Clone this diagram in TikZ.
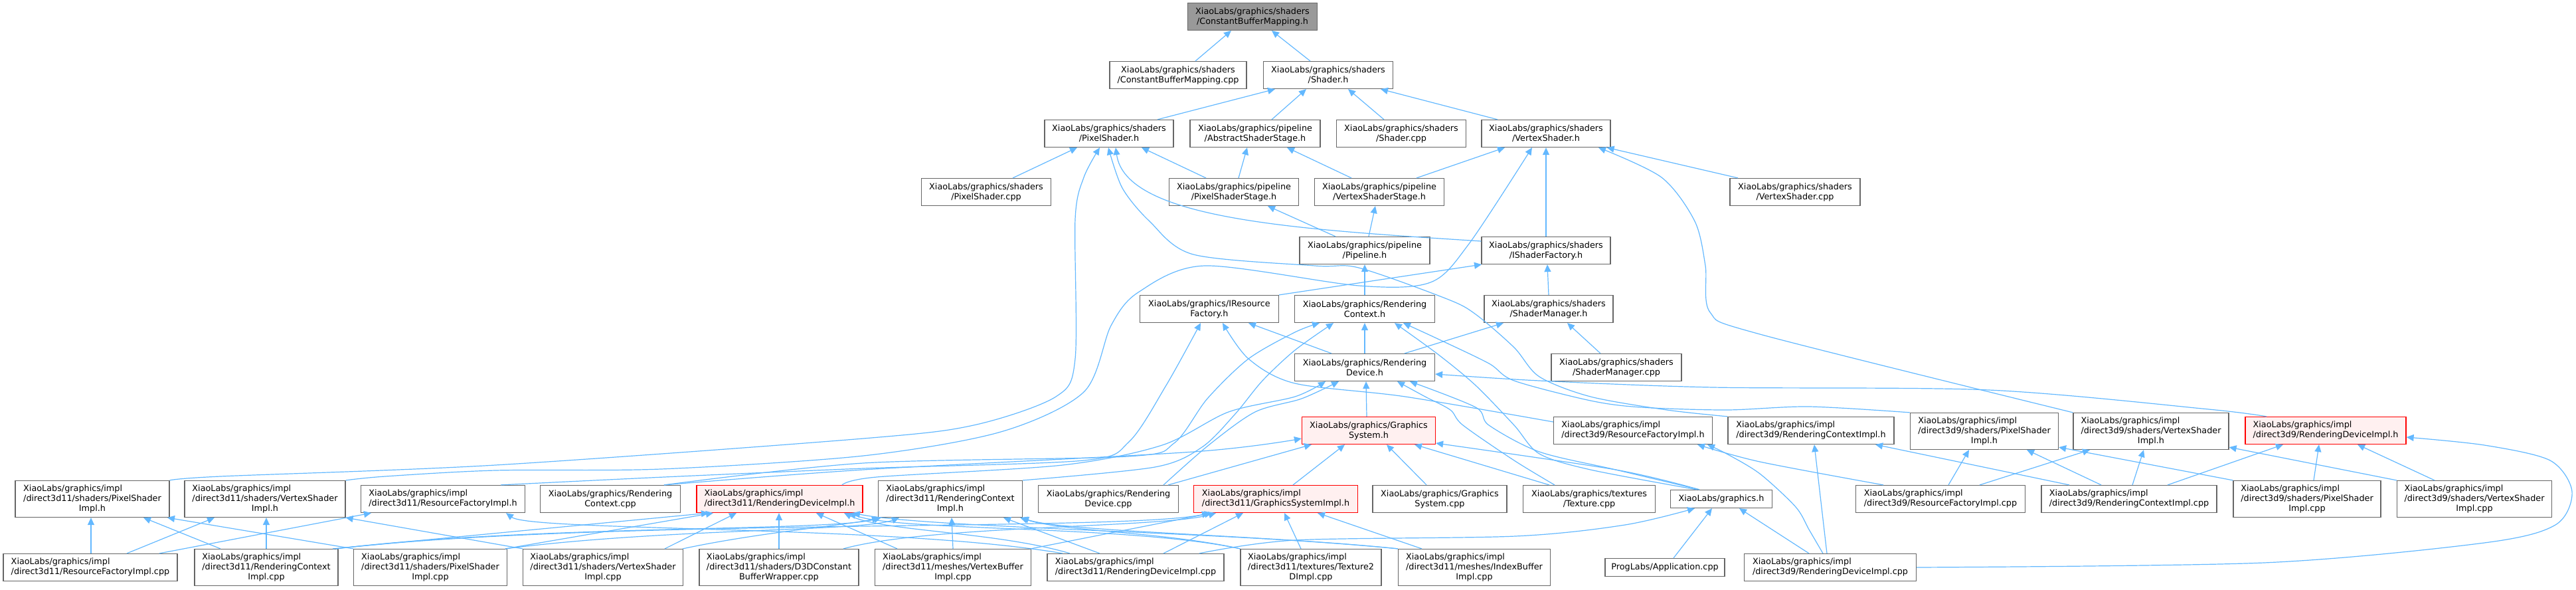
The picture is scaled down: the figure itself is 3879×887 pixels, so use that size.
\documentclass[tikz,border=0pt]{standalone}
\usepackage{fontspec}
\setmainfont{DejaVu Sans}
\usetikzlibrary{arrows.meta}
\definecolor{edgec}{HTML}{63B8FF}
\definecolor{boxc}{HTML}{666666}
\definecolor{redfill}{HTML}{FFF0F0}
\definecolor{topfill}{HTML}{999999}
\newcommand{\nodefont}{\fontsize{12.8pt}{15pt}\selectfont}
\newcommand{\Ltwo}[2]{\begin{tabular}{@{}l@{}}#1\\#2\end{tabular}}
\newcommand{\Lthree}[3]{\begin{tabular}{@{}l@{}}#1\\#2\\\multicolumn{1}{@{}c@{}}{#3}\end{tabular}}
\begin{document}
\begin{tikzpicture}[x=1pt, y=-1pt,
  box/.style={draw=boxc, fill=white, line width=1.2pt, font=\nodefont, inner sep=0pt, minimum height=41pt, align=center},
  hthree/.style={minimum height=55pt},
  hone/.style={minimum height=27pt},
  redbox/.style={draw=red, fill=redfill},
  topbox/.style={fill=topfill},
  edge/.style={draw=edgec, line width=1.2pt, -{Triangle[length=11pt,width=10pt]}},
  sm/.style={smooth, tension=0.5}]
\useasboundingbox (0,0) rectangle (3879,887);

% ---------- nodes ----------
\node[box, topbox, minimum width=195pt] (cbmh) at (1886,25) {XiaoLabs/graphics/shaders\\/ConstantBufferMapping.h};
\node[box, minimum width=206pt] (cbmcpp) at (1774,113) {XiaoLabs/graphics/shaders\\/ConstantBufferMapping.cpp};
\node[box, minimum width=195pt] (shaderh) at (2000,113) {XiaoLabs/graphics/shaders\\/Shader.h};
\node[box, minimum width=194pt] (psh) at (1670,201) {XiaoLabs/graphics/shaders\\/PixelShader.h};
\node[box, minimum width=196pt] (assh) at (1890,201) {XiaoLabs/graphics/pipeline\\/AbstractShaderStage.h};
\node[box, minimum width=195pt] (shadercpp) at (2110,201) {XiaoLabs/graphics/shaders\\/Shader.cpp};
\node[box, minimum width=194pt] (vsh) at (2328,201) {XiaoLabs/graphics/shaders\\/VertexShader.h};
\node[box, minimum width=195pt] (pscpp) at (1485,289) {XiaoLabs/graphics/shaders\\/PixelShader.cpp};
\node[box, minimum width=195pt] (pssh) at (1858,289) {XiaoLabs/graphics/pipeline\\/PixelShaderStage.h};
\node[box, minimum width=195pt] (vssh) at (2077,289) {XiaoLabs/graphics/pipeline\\/VertexShaderStage.h};
\node[box, minimum width=196pt] (vscpp) at (2703,289) {XiaoLabs/graphics/shaders\\/VertexShader.cpp};
\node[box, minimum width=196pt] (pipeh) at (2055,377) {XiaoLabs/graphics/pipeline\\/Pipeline.h};
\node[box, minimum width=194pt] (isfh) at (2328,377) {XiaoLabs/graphics/shaders\\/IShaderFactory.h};
\node[box, minimum width=209pt] (irfh) at (1821,465) {XiaoLabs/graphics/IResource\\Factory.h};
\node[box, minimum width=211pt] (rch) at (2055,465) {XiaoLabs/graphics/Rendering\\Context.h};
\node[box, minimum width=194pt] (smh) at (2332,465) {XiaoLabs/graphics/shaders\\/ShaderManager.h};
\node[box, minimum width=211pt] (rdh) at (2055,553) {XiaoLabs/graphics/Rendering\\Device.h};
\node[box, minimum width=196pt] (smcpp) at (2434,553) {XiaoLabs/graphics/shaders\\/ShaderManager.cpp};
\node[box, redbox, minimum width=201pt] (gsh) at (2061,648) {XiaoLabs/graphics/Graphics\\System.h};
\node[box, minimum width=239pt] (d9rfh) at (2459,648) {\Ltwo{XiaoLabs/graphics/impl}{/direct3d9/ResourceFactoryImpl.h}};
\node[box, minimum width=250pt] (d9rch) at (2727,648) {\Ltwo{XiaoLabs/graphics/impl}{/direct3d9/RenderingContextImpl.h}};
\node[box, hthree, minimum width=223pt] (d9psh) at (2988,649) {\Lthree{XiaoLabs/graphics/impl}{/direct3d9/shaders/PixelShader}{Impl.h}};
\node[box, hthree, minimum width=234pt] (d9vsh) at (3239,649) {\Lthree{XiaoLabs/graphics/impl}{/direct3d9/shaders/VertexShader}{Impl.h}};
\node[box, redbox, minimum width=242pt] (d9rdh) at (3502,648) {\Ltwo{XiaoLabs/graphics/impl}{/direct3d9/RenderingDeviceImpl.h}};

\node[box, hthree, minimum width=232pt] (d11psh) at (139,751) {\Lthree{XiaoLabs/graphics/impl}{/direct3d11/shaders/PixelShader}{Impl.h}};
\node[box, hthree, minimum width=242pt] (d11vsh) at (399,751) {\Lthree{XiaoLabs/graphics/impl}{/direct3d11/shaders/VertexShader}{Impl.h}};
\node[box, minimum width=247pt] (d11rfh) at (667,751) {\Ltwo{XiaoLabs/graphics/impl}{/direct3d11/ResourceFactoryImpl.h}};
\node[box, minimum width=211pt] (rccpp) at (919,751) {XiaoLabs/graphics/Rendering\\Context.cpp};
\node[box, redbox, minimum width=250pt] (d11rdh) at (1174,751) {\Ltwo{XiaoLabs/graphics/impl}{/direct3d11/RenderingDeviceImpl.h}};
\node[box, hthree, minimum width=217pt] (d11rch) at (1431,751) {\Lthree{XiaoLabs/graphics/impl}{/direct3d11/RenderingContext}{Impl.h}};
\node[box, minimum width=211pt] (rdcpp) at (1669,751) {XiaoLabs/graphics/Rendering\\Device.cpp};
\node[box, redbox, minimum width=247pt] (d11gsh) at (1921,751) {\Ltwo{XiaoLabs/graphics/impl}{/direct3d11/GraphicsSystemImpl.h}};
\node[box, minimum width=202pt] (gscpp) at (2168,751) {XiaoLabs/graphics/Graphics\\System.cpp};
\node[box, minimum width=199pt] (texcpp) at (2393,751) {XiaoLabs/graphics/textures\\/Texture.cpp};
\node[box, hone, minimum width=153pt] (graphicsh) at (2592,751) {XiaoLabs/graphics.h};
\node[box, minimum width=255pt] (d9rfcpp) at (2922,751) {\Ltwo{XiaoLabs/graphics/impl}{/direct3d9/ResourceFactoryImpl.cpp}};
\node[box, minimum width=264pt] (d9rccpp) at (3206,751) {\Ltwo{XiaoLabs/graphics/impl}{/direct3d9/RenderingContextImpl.cpp}};
\node[box, hthree, minimum width=222pt] (d9pscpp) at (3474,751) {\Lthree{XiaoLabs/graphics/impl}{/direct3d9/shaders/PixelShader}{Impl.cpp}};
\node[box, hthree, minimum width=233pt] (d9vscpp) at (3726,751) {\Lthree{XiaoLabs/graphics/impl}{/direct3d9/shaders/VertexShader}{Impl.cpp}};

\node[box, minimum width=262pt] (d11rfcpp) at (136,854) {\Ltwo{XiaoLabs/graphics/impl}{/direct3d11/ResourceFactoryImpl.cpp}};
\node[box, hthree, minimum width=216pt] (d11rccpp) at (401,854) {\Lthree{XiaoLabs/graphics/impl}{/direct3d11/RenderingContext}{Impl.cpp}};
\node[box, hthree, minimum width=231pt] (d11pscpp) at (648,854) {\Lthree{XiaoLabs/graphics/impl}{/direct3d11/shaders/PixelShader}{Impl.cpp}};
\node[box, hthree, minimum width=241pt] (d11vscpp) at (908,854) {\Lthree{XiaoLabs/graphics/impl}{/direct3d11/shaders/VertexShader}{Impl.cpp}};
\node[box, hthree, minimum width=240pt] (d3dcbw) at (1173,854) {\Lthree{XiaoLabs/graphics/impl}{/direct3d11/shaders/D3DConstant}{BufferWrapper.cpp}};
\node[box, hthree, minimum width=235pt] (vbcpp) at (1435,854) {\Lthree{XiaoLabs/graphics/impl}{/direct3d11/meshes/VertexBuffer}{Impl.cpp}};
\node[box, minimum width=266pt] (d11rdcpp) at (1710,854) {\Ltwo{XiaoLabs/graphics/impl}{/direct3d11/RenderingDeviceImpl.cpp}};
\node[box, hthree, minimum width=212pt] (tex2dcpp) at (1974,854) {\Lthree{XiaoLabs/graphics/impl}{/direct3d11/textures/Texture2}{DImpl.cpp}};
\node[box, hthree, minimum width=229pt] (ibcpp) at (2220,854) {\Lthree{XiaoLabs/graphics/impl}{/direct3d11/meshes/IndexBuffer}{Impl.cpp}};
\node[box, hone, minimum width=180pt] (appcpp) at (2507,854) {ProgLabs/Application.cpp};
\node[box, minimum width=259pt] (d9rdcpp) at (2756,854) {\Ltwo{XiaoLabs/graphics/impl}{/direct3d9/RenderingDeviceImpl.cpp}};

% ---------- edges: upper part ----------
\draw[edge] ([xshift=26]cbmcpp.north) -- ([xshift=-32]cbmh.south);
\draw[edge] ([xshift=-27]shaderh.north) -- ([xshift=29]cbmh.south);
\draw[edge] ([xshift=73]psh.north) -- ([xshift=-80]shaderh.south);
\draw[edge] ([xshift=25]assh.north) -- ([xshift=-33]shaderh.south);
\draw[edge] ([xshift=-26]shadercpp.north) -- ([xshift=30]shaderh.south);
\draw[edge] ([xshift=-73]vsh.north) -- ([xshift=79]shaderh.south);
\draw[edge] ([xshift=40]pscpp.north) -- ([xshift=-48]psh.south);
\draw[edge] ([xshift=-42]pssh.north) -- ([xshift=49]psh.south);
\draw[edge] ([xshift=7]pssh.north) -- ([xshift=-12]assh.south);
\draw[edge] ([xshift=-42]vssh.north) -- ([xshift=48]assh.south);
\draw[edge] ([xshift=56]vssh.north) -- ([xshift=-62]vsh.south);
\draw[edge] ([xshift=-44]pipeh.north) -- ([xshift=51]pssh.south);
\draw[edge] ([xshift=6]pipeh.north) -- ([xshift=-6]vssh.south);
\draw[edge] ([yshift=14]isfh.west) .. controls (1950,345) and (1695,330) .. ([xshift=10]psh.south);
\draw[edge] (isfh.north) -- (vsh.south);
\draw[edge] ([xshift=-86]vscpp.north) -- ([xshift=-6]vsh.south east);
\draw[edge] plot[sm] coordinates {(d11psh.north east) (332,717) (746,700) (1300,660) (1466,640) (1590,597) (1619,540) (1619,330) (1632,267) ([xshift=-14]psh.south)};
\draw[edge] plot[sm] coordinates {(d11vsh.north east) (580,717) (746,708) (995,706) (1300,686) (1507,650) (1632,590) (1673,490) (1714,440) (1814,400) (2046,430) (2154,425) (2212,367) ([xshift=-21]vsh.south)};
\draw[edge] plot[sm] coordinates {(d9rch.north west) (2510,617) (2395,597) (2318,567) (2280,523) (2222,473) (2179,450) (2046,403) (1980,400) (1797,383) (1731,333) (1690,283) ([xshift=-1]psh.south)};
\draw[edge] plot[sm] coordinates {(d9vsh.north west) (2650,503) (2575,470) (2568,400) (2552,333) (2502,267) ([xshift=79]vsh.south)};
\draw[edge] plot[sm] coordinates {(d9psh.north west) (2724,612) (2600,617) (2471,613) (2395,603) (2280,573) (2242,547) (2165,510) ([xshift=58]rch.south)};
\draw[edge] ([xshift=105]irfh.north) -- ([xshift=-97]isfh.south);
\draw[edge] (smh.north) -- ([xshift=2]isfh.south);
\draw[edge] (rch.north) -- (pipeh.south);
\draw[edge] ([xshift=-50]rdh.north) -- ([xshift=59]irfh.south);
\draw[edge] (rdh.north) -- (rch.south);
\draw[edge] ([xshift=60]rdh.north) -- ([xshift=-68]smh.south);
\draw[edge] ([xshift=-24]smcpp.north) -- ([xshift=28]smh.south);
\draw[edge] ([xshift=-3]gsh.north) -- ([xshift=2]rdh.south);
\draw[edge] plot[sm] coordinates {([yshift=13]d9rfh.west) (2116,597) (1950,577) (1880,540) ([xshift=20]irfh.south)};
\draw[edge] plot[sm] coordinates {([xshift=87]d11rfh.north) (1000,718) (1300,705) (1632,693) (1700,665) (1756,580) ([xshift=-13]irfh.south)};
\draw[edge] plot[sm] coordinates {([xshift=81]rccpp.north) (1300,697) (1698,687) (1768,667) (1818,600) (1880,540) (1950,500) ([xshift=-68]rch.south)};
\draw[edge] plot[sm] coordinates {(d11rch.north east) (1739,703) (1810,673) (1860,623) (1901,573) (1950,527) ([xshift=-47]rch.south)};
\draw[edge] plot[sm] coordinates {([xshift=94]d11rdh.north) (1320,718) (1600,700) (1750,670) (1850,620) (1950,597) ([xshift=-59]rdh.south)};
\draw[edge] plot[sm] coordinates {([xshift=83]rdcpp.north) (1820,670) (1890,620) (1960,600) ([xshift=-39]rdh.south)};
\draw[edge] ([xshift=90]rdcpp.north) -- ([xshift=-86]gsh.south);
\draw[edge] plot[sm] coordinates {([xshift=81]rccpp.north) (1300,707) (1797,680) ([yshift=-12]gsh.west)};
\draw[edge] ([xshift=-20]gscpp.north) -- ([xshift=27]gsh.south);
\draw[edge] ([xshift=-60]texcpp.north) -- ([xshift=69]gsh.south);
\draw[edge] plot[sm] coordinates {([xshift=-52]texcpp.north) (2280,693) (2203,640) (2184,617) (2146,597) ([xshift=49]rdh.south)};
\draw[edge] plot[sm] coordinates {([xshift=-33]graphicsh.north) (2433,707) ([yshift=-19]gsh.east)};
\draw[edge] plot[sm] coordinates {([xshift=-33]graphicsh.north) (2433,707) (2318,680) (2242,640) (2222,613) ([xshift=68]rdh.south)};
\draw[edge] plot[sm] coordinates {([xshift=-37]graphicsh.north) (2395,707) (2318,683) (2280,640) (2222,580) (2165,533) ([xshift=45]rch.south)};
\draw[edge] plot[sm] coordinates {([xshift=-89]d9rdh.north) (3326,616) (2995,587) (2580,583) (2318,573) ([yshift=-10]rdh.east)};
\draw[edge] ([xshift=26]d11gsh.north) -- ([xshift=-36]gsh.south);

% ---------- edges: direct3d9 part ----------
\draw[edge] plot[sm] coordinates {([xshift=-86]d9rfcpp.north) (2650,695) ([xshift=97]d9rfh.south)};
\draw[edge] plot[sm] coordinates {([xshift=-11]d9rdcpp.north) (2724,797) (2704,763) (2650,713) (2600,683) ([xshift=112]d9rfh.south)};
\draw[edge] ([xshift=-5]d9rdcpp.north) -- ([xshift=5]d9rch.south);
\draw[edge] ([xshift=-32]d9rdcpp.north) -- ([xshift=27]graphicsh.south);
\draw[edge] ([xshift=13]appcpp.north) -- ([xshift=-14]graphicsh.south);
\draw[edge] plot[sm] coordinates {([xshift=96]d11rdcpp.north) (1950,813) (2282,807) (2447,790) ([xshift=-40]graphicsh.south)};
\draw[edge] ([xshift=-90]d9rccpp.north) -- ([xshift=97]d9rch.south);
\draw[edge] ([xshift=-42]d9rccpp.north) -- ([xshift=64]d9psh.south);
\draw[edge] ([xshift=5]d9rccpp.north) -- ([xshift=-11]d9vsh.south);
\draw[edge] ([xshift=58]d9rccpp.north) -- ([xshift=-64]d9rdh.south);
\draw[edge] ([xshift=12]d9rfcpp.north) -- ([xshift=-23]d9psh.south);
\draw[edge] ([xshift=59]d9rfcpp.north) -- ([xshift=-92]d9vsh.south);
\draw[edge] (d9pscpp.north west) -- ([yshift=4]d9psh.south east);
\draw[edge] ([xshift=10]d9pscpp.north) -- ([xshift=-10]d9rdh.south);
\draw[edge] (d9vscpp.north west) -- ([yshift=4]d9vsh.south east);
\draw[edge] ([xshift=-60]d9vscpp.north) -- ([xshift=48]d9rdh.south);
\draw[edge] plot[sm] coordinates {(d9rdcpp.east) (3409,847) (3741,817) (3848,790) (3873,740) (3840,693) (3741,670) ([yshift=-10]d9rdh.east)};

% ---------- edges: direct3d11 part ----------
\draw[edge] ([xshift=1]d11rfcpp.north) -- ([xshift=-2]d11psh.south);
\draw[edge] ([xshift=55]d11rfcpp.north) -- ([xshift=-76]d11vsh.south);
\draw[edge] ([xshift=104]d11rfcpp.north) -- ([xshift=-108]d11rfh.south);
\draw[edge] ([xshift=-69]d11rccpp.north) -- ([xshift=77]d11psh.south);
\draw[edge] (d11rccpp.north) -- ([xshift=2]d11vsh.south);
\draw[edge] ([xshift=100]d11rccpp.north) -- ([xshift=-107]d11rdh.south);
\draw[edge] ([xshift=105]d11rccpp.north) .. controls (800,790) and (1250,800) .. ([xshift=5]d11rch.south west);
\draw[edge] ([xshift=105]d11rccpp.north) .. controls (900,780) and (1700,800) .. ([xshift=-100]d11gsh.south);
\draw[edge] (d11pscpp.north west) -- ([xshift=113]d11psh.south);
\draw[edge] ([xshift=113]d11pscpp.north) -- ([xshift=-100]d11rdh.south);
\draw[edge] ([xshift=113]d11pscpp.north) .. controls (1000,795) and (1300,800) .. ([xshift=-77]d11rch.south);
\draw[edge] (d11vscpp.north west) -- (d11vsh.south east);
\draw[edge] ([xshift=93]d11vscpp.north) -- ([xshift=-65]d11rdh.south);
\draw[edge] ([xshift=120]d11vscpp.north) .. controls (1150,800) and (1280,790) .. ([xshift=2]d11rch.south west);
\draw[edge] (d3dcbw.north) -- ([xshift=-1]d11rdh.south);
\draw[edge] ([xshift=97]d3dcbw.north) .. controls (1400,790) and (1750,795) .. ([xshift=-90]d11gsh.south);
\draw[edge] (vbcpp.north) -- ([xshift=2]d11rch.south);
\draw[edge] ([xshift=-84]vbcpp.north) -- ([xshift=55]d11rdh.south);
\draw[edge] ([xshift=117]vbcpp.north) -- ([xshift=-96]d11gsh.south);
\draw[edge] ([xshift=-54]d11rdcpp.north) -- ([xshift=80]d11rch.south);
\draw[edge] ([xshift=42]d11rdcpp.north) -- ([xshift=-49]d11gsh.south);
\draw[edge] ([xshift=-99]d11rdcpp.north) .. controls (1500,800) and (1330,800) .. ([xshift=97]d11rdh.south);
\draw[edge] ([xshift=-110]d11rdcpp.north) .. controls (1350,790) and (800,800) .. ([xshift=95]d11rfh.south);
\draw[edge] ([xshift=-15]tex2dcpp.north) -- ([xshift=13]d11gsh.south);
\draw[edge] (tex2dcpp.north west) .. controls (1750,800) and (1600,800) .. ([xshift=-4]d11rch.south east);
\draw[edge] (tex2dcpp.north west) .. controls (1700,790) and (1350,800) .. ([xshift=104]d11rdh.south);
\draw[edge] ([xshift=-79]ibcpp.north) -- ([xshift=63]d11gsh.south);
\draw[edge] (ibcpp.north west) .. controls (1900,805) and (1600,800) .. ([xshift=-2]d11rch.south east);
\draw[edge] (ibcpp.north west) .. controls (1850,800) and (1400,795) .. ([xshift=110]d11rdh.south);
\end{tikzpicture}
\end{document}
